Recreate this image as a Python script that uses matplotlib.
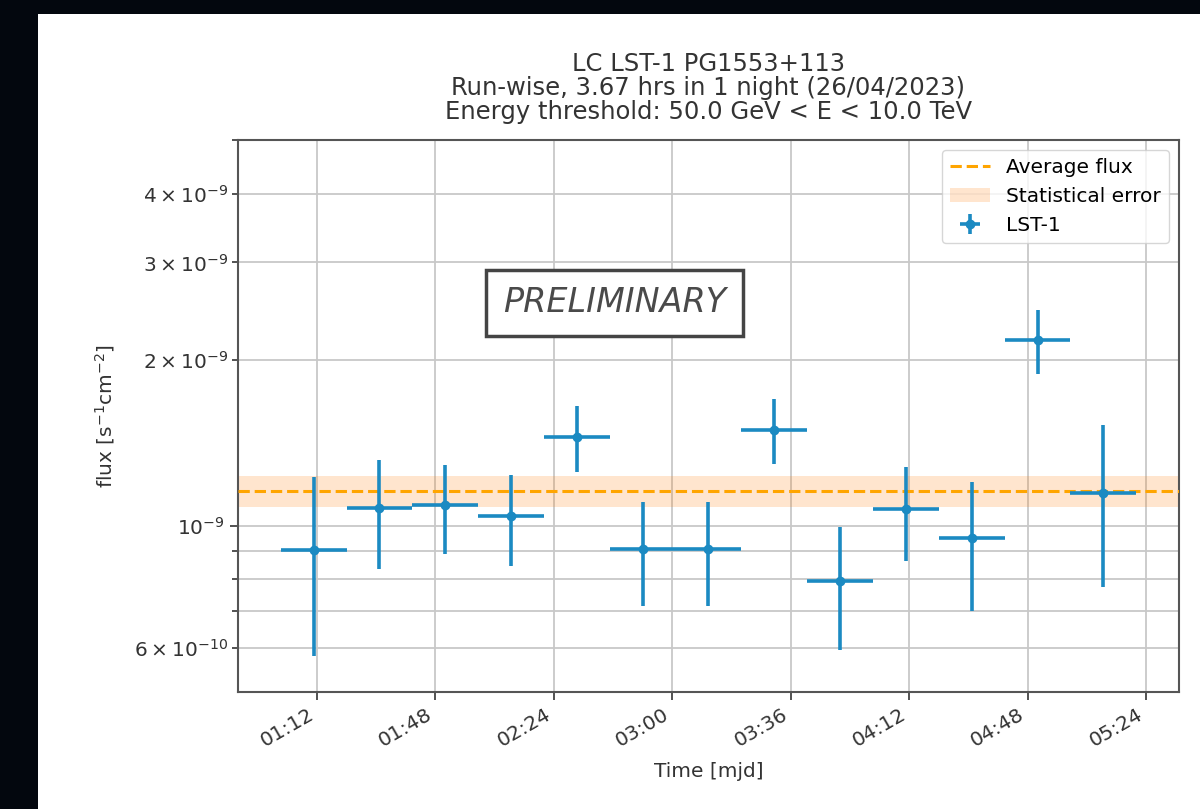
import datetime as dt
import matplotlib.pyplot as plt
import matplotlib.dates as mdates
import matplotlib.ticker as ticker
from matplotlib.patches import Rectangle

# run-wise light curve, night 26/04/2023 (times in UTC)
run_times = ['01:11', '01:31', '01:51', '02:11', '02:31', '02:51', '03:11',
             '03:31', '03:51', '04:11', '04:31', '04:51', '05:11']
run_half_width_min = 10
flux = [0.904, 1.076, 1.090, 1.042, 1.450, 0.909, 0.909,
        1.494, 0.795, 1.071, 0.952, 2.175, 1.148]  # 1e-9 s^-1 cm^-2
flux_err = [0.322, 0.242, 0.200, 0.195, 0.196, 0.194, 0.194,
            0.201, 0.200, 0.206, 0.251, 0.290, 0.372]
avg_flux = 1.157
avg_flux_err = 0.074

night = dt.date(2023, 4, 27)
times = [dt.datetime.combine(night, dt.datetime.strptime(t, '%H:%M').time()) for t in run_times]
x_err = dt.timedelta(minutes=run_half_width_min)
y = [f * 1e-9 for f in flux]
y_err = [e * 1e-9 for e in flux_err]

blue = '#1b8ac2'
text_col = '#333333'

fig = plt.figure(figsize=(12, 8.09), dpi=100)
fig.patch.set_facecolor('#03070e')
fig.add_artist(Rectangle((38 / 1200, 0), 1, 1 - 14 / 809, transform=fig.transFigure,
                         facecolor='white', edgecolor='none', zorder=-10))
ax = fig.add_axes([0.1983, 0.1446, 0.7842, 0.6823])

ax.axhline(avg_flux * 1e-9, color='orange', ls='--', lw=2.2, label='Average flux', zorder=3)
ax.axhspan((avg_flux - avg_flux_err) * 1e-9, (avg_flux + avg_flux_err) * 1e-9,
           color='tab:orange', alpha=0.2, lw=0, label='Statistical error', zorder=1)
ax.errorbar(times, y, xerr=x_err, yerr=y_err, fmt='o', color=blue, ms=6,
            elinewidth=2.6, capsize=0, label='LST-1', zorder=4)

ax.set_yscale('log')
ax.set_ylim(5e-10, 5e-9)
# keep the ticks to the visible decade; minor labels on the 2,3,4,6 subset
ax.yaxis.set_major_locator(ticker.FixedLocator([1e-9]))
ax.yaxis.set_minor_locator(ticker.FixedLocator([6e-10, 7e-10, 8e-10, 9e-10,
                                                2e-9, 3e-9, 4e-9, 5e-9]))
ax.yaxis.set_minor_formatter(ticker.LogFormatterSciNotation(minor_thresholds=(2, 0.4)))
ax.xaxis.set_major_locator(ticker.MultipleLocator(0.025))
ax.xaxis.set_major_formatter(mdates.DateFormatter('%H:%M'))

ax.grid(which='both', color='#c8c8c8', lw=1.3)
ax.set_axisbelow(True)
for s in ax.spines.values():
    s.set_color('#555555')
    s.set_linewidth(1.5)
ax.tick_params(which='both', labelsize=14.5, colors=text_col, width=1.2)
ax.tick_params(which='major', length=6)
ax.tick_params(which='minor', length=4)
plt.setp(ax.get_xticklabels(), rotation=30, ha='right')

ax.set_xlabel('Time [mjd]', fontsize=14.5, color=text_col, labelpad=8)
ax.set_ylabel('flux [s$^{-1}$cm$^{-2}$]', fontsize=14.5, color=text_col, labelpad=12)
ax.set_title('LC LST-1 PG1553+113\nRun-wise, 3.67 hrs in 1 night (26/04/2023)\n'
             'Energy threshold: 50.0 GeV < E < 10.0 TeV',
             fontsize=17.5, color=text_col, linespacing=1.0, pad=15)

ax.text(0.40, 0.705, 'PRELIMINARY', transform=ax.transAxes, fontsize=24,
        style='italic', color='#4a4a4a', ha='center', va='center',
        bbox=dict(boxstyle='square,pad=0.5', facecolor='white',
                  edgecolor='#444444', lw=2.5), zorder=5)

ax.legend(loc='upper right', fontsize=14.5, framealpha=0.8)

plt.savefig('out.png', dpi=100, facecolor=fig.get_facecolor())
